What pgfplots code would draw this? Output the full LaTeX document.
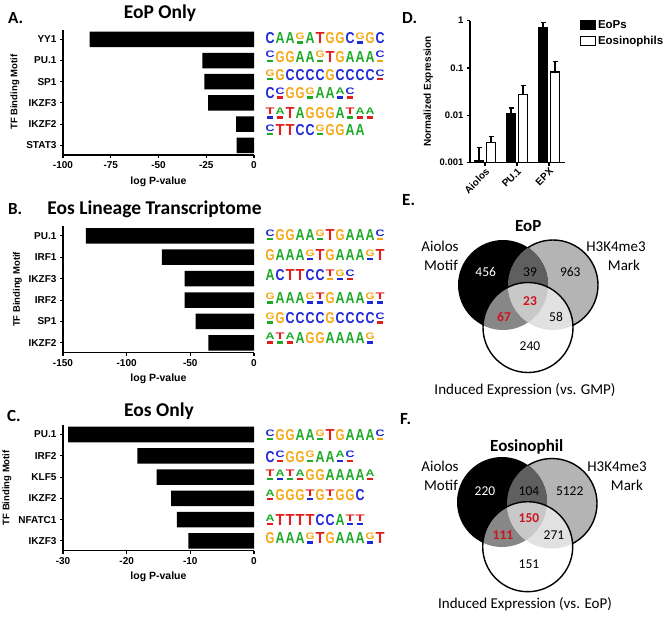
\documentclass[border=0pt]{standalone}
\usepackage{pgfplots}
\pgfplotsset{compat=1.18}
\usepackage{fontspec}
\usepackage{graphicx}
\setmainfont{Liberation Sans}
\newfontfamily\calib{Carlito}
\definecolor{cA}{RGB}{30,170,40}
\definecolor{cC}{RGB}{30,40,215}
\definecolor{cG}{RGB}{245,168,20}
\definecolor{cT}{RGB}{225,30,30}
\definecolor{vred}{RGB}{205,20,30}
\definecolor{vgrey}{RGB}{180,180,180}
\definecolor{vdark}{RGB}{95,95,95}
\definecolor{vmidd}{RGB}{135,135,135}
\definecolor{vlight}{RGB}{225,225,225}
\definecolor{vcent}{RGB}{200,200,200}
\newcommand\cl[1]{\textcolor{c#1}{\bfseries #1}}
\newcommand\Mb[1]{\makebox[10pt]{\resizebox{9pt}{11pt}{\cl{#1}}}}
\newcommand\Ms[2]{\makebox[10pt]{\makebox[0pt]{\raisebox{4.3pt}{\resizebox{9pt}{6.6pt}{\cl{#1}}}}\makebox[0pt]{\textcolor{c#2}{\rule{6.5pt}{2.4pt}}}}}
\newcommand\motAtwo{\Ms CA\Mb G\Mb G\Mb A\Mb A\Ms GA\Mb T\Mb G\Mb A\Mb A\Mb A\Ms CG}
\newcommand\motAthree{\Ms GA\Mb G\Mb C\Mb C\Mb C\Mb C\Mb G\Mb C\Mb C\Mb C\Mb C\Ms CT}
\newcommand\motAfour{\Mb C\Ms CT\Mb G\Mb G\Ms GA\Mb A\Mb A\Ms AC\Ms CT}
\newcommand\motBtwo{\Mb G\Mb A\Mb A\Mb A\Ms GC\Mb T\Mb G\Mb A\Mb A\Mb A\Ms GC\Mb T}
\newcommand\venn[6]{%
 \fill[vgrey] (#3pt,#4pt) circle (45pt);
 \draw[line width=1.4pt] (#3pt,#4pt) circle (45pt);
 \fill[black] (#1pt,#2pt) circle (45pt);
 \begin{scope}\clip (#1pt,#2pt) circle (45pt); \fill[vdark] (#3pt,#4pt) circle (45pt);\end{scope}
 \fill[white] (#5pt,#6pt) circle (45pt);
 \begin{scope}\clip (#5pt,#6pt) circle (45pt);
   \fill[vmidd] (#1pt,#2pt) circle (45pt);
   \fill[vlight] (#3pt,#4pt) circle (45pt);
   \clip (#1pt,#2pt) circle (45pt);
   \fill[vcent] (#3pt,#4pt) circle (45pt);
 \end{scope}
 \draw[line width=1.4pt] (#5pt,#6pt) circle (45pt);}
\pgfplotsset{
 hbar/.style={
  xbar, scale only axis, width=191pt,
  axis x line*=bottom, axis y line*=left,
  axis line style={-, line width=1.3pt},
  major tick style={line width=1.1pt, black},
  tick align=outside, major tick length=3pt,
  ytick={0,...,5}, y dir=reverse,
  ymin=-0.46, ymax=5.46,
  bar width=15.5pt, xmax=0,
  enlarge x limits=false,
  tick label style={font=\bfseries\fontsize{10}{11}\selectfont},
  /pgf/number format/assume math mode=true,
  xlabel={log P-value},
  xlabel style={font=\bfseries\fontsize{10.5}{12}\selectfont, yshift=-1pt},
  ylabel={TF Binding Motif},
  ylabel style={font=\bfseries\fontsize{9.5}{11}\selectfont},
  anchor=south west,
 }
}
\begin{document}
\begin{tikzpicture}
% ---------- Panel A
\begin{axis}[hbar, at={(63pt,-155pt)}, height=125.4pt,
  xmin=-100, xtick={-100,-75,-50,-25,0}, xticklabels={-100,-75,-50,-25,0},
  yticklabels={YY1,PU.1,SP1,IKZF3,IKZF2,STAT3}]
\addplot[fill=black, draw=none] coordinates {(-86,0) (-27,1) (-26,2) (-24,3) (-9.4,4) (-9.1,5)};
\end{axis}
% ---------- Panel B
\begin{axis}[hbar, at={(63pt,-352.7pt)}, height=126.7pt,
  xmin=-150, xtick={-150,-100,-50,0}, xticklabels={-150,-100,-50,0},
  yticklabels={PU.1,IRF1,IKZF3,IRF2,SP1,IKZF2}]
\addplot[fill=black, draw=none] coordinates {(-132,0) (-72.3,1) (-54.4,2) (-54.4,3) (-45.8,4) (-35.9,5)};
\end{axis}
% ---------- Panel C
\begin{axis}[hbar, at={(63pt,-550.7pt)}, height=126pt,
  xmin=-30, xtick={-30,-20,-10,0}, xticklabels={-30,-20,-10,0},
  yticklabels={PU.1,IRF2,KLF5,IKZF2,NFATC1,IKZF3}]
\addplot[fill=black, draw=none] coordinates {(-29.2,0) (-18.3,1) (-15.3,2) (-13,3) (-12.1,4) (-10.3,5)};
\end{axis}
% ---------- Panel D
\begin{axis}[at={(470pt,-162.7pt)}, anchor=south west, scale only axis, width=95pt, height=142pt,
  ymode=log, log origin=infty, ymin=0.001, ymax=1, yminorticks=false,
  ytick={0.001,0.01,0.1,1}, yticklabels={0.001,0.01,0.1,1},
  xmin=-0.47, xmax=2.5, xtick={0,1,2}, xticklabels={Aiolos,PU.1,EPX},
  ybar=3pt, bar width=9pt,
  axis x line*=bottom, axis y line*=left,
  axis line style={-, line width=1.3pt},
  major tick style={line width=1.1pt, black},
  tick align=outside, major tick length=3pt,
  tick label style={font=\bfseries\fontsize{9.5}{10}\selectfont},
  xticklabel style={rotate=45, anchor=north east, inner sep=1pt, font=\bfseries\fontsize{10}{11}\selectfont},
  /pgf/number format/assume math mode=true,
  ylabel={Normalized Expression},
  ylabel style={font=\bfseries\fontsize{10}{11}\selectfont},
  legend style={at={(1.12,1.03)}, anchor=north west, draw=none, fill=none,
    font=\bfseries\fontsize{11.5}{13}\selectfont, row sep=2pt},
  legend cell align=left,
  error bars/error bar style={line width=1.1pt, black},
  error bars/error mark options={rotate=90, mark size=2.5pt, line width=1.1pt, black},
  ]
\addplot[fill=black, draw=black, line width=1pt,
  legend image code/.code={\draw[fill=black,draw=black,line width=1pt] (0pt,-4.5pt) rectangle (15pt,4.5pt);},
  error bars/.cd, y dir=plus, y explicit]
  coordinates {(0,0.00114) +- (0,0.001) (1,0.0111) +- (0,0.0032) (2,0.73) +- (0,0.18)};
\addlegendentry{EoPs}
\addplot[fill=white, draw=black, line width=1.3pt,
  legend image code/.code={\draw[fill=white,draw=black,line width=1.4pt] (0pt,-4.5pt) rectangle (15pt,4.5pt);},
  error bars/.cd, y dir=plus, y explicit]
  coordinates {(0,0.00265) +- (0,0.001) (1,0.0279) +- (0,0.014) (2,0.0826) +- (0,0.054)};
\addlegendentry{Eosinophils}
\end{axis}
% ---------- Titles & letters
\begin{scope}[every node/.style={font=\calib\bfseries\fontsize{17}{19}\selectfont, anchor=base west, inner sep=0}]
\node at (8pt,-24pt) {A.};
\node at (8pt,-215pt) {B.};
\node at (7pt,-421.7pt) {C.};
\node at (402pt,-24pt) {D.};
\node at (402pt,-206pt) {E.};
\node at (400pt,-424pt) {F.};
\end{scope}
\begin{scope}[every node/.style={font=\calib\bfseries\fontsize{19.5}{21}\selectfont, anchor=base, inner sep=0}]
\node at (160pt,-18.3pt) {EoP Only};
\node at (154.5pt,-215pt) {Eos Lineage Transcriptome};
\node at (159pt,-416.7pt) {Eos Only};
\end{scope}
% ---------- Motifs
\begin{scope}[every node/.style={anchor=west, inner sep=0}]
\node at (265pt,-38.3pt) {\Mb C\Mb A\Mb A\Ms GA\Mb A\Mb T\Mb G\Mb G\Mb C\Ms GC\Mb G\Mb C};
\node at (265pt,-56.7pt) {\motAtwo};
\node at (265pt,-75pt) {\motAthree};
\node at (265pt,-93.3pt) {\motAfour};
\node at (265pt,-113.3pt) {\Ms TC\Ms AT\Mb T\Mb A\Mb G\Mb G\Mb G\Mb A\Ms TA\Ms AT\Ms AT};
\node at (265pt,-130pt) {\Ms CA\Mb T\Mb T\Mb C\Mb C\Ms GA\Mb G\Mb G\Mb A\Mb A};
\node at (265pt,-235pt) {\motAtwo};
\node at (265pt,-255pt) {\motBtwo};
\node at (265pt,-275pt) {\Mb A\Mb C\Mb T\Mb T\Mb C\Mb C\Ms TG\Ms GC\Ms CT};
\node at (265pt,-298.3pt) {\Ms GA\Mb A\Mb A\Mb A\Ms GC\Ms TC\Mb G\Mb A\Mb A\Mb A\Ms GC\Ms TC};
\node at (265pt,-318.3pt) {\motAthree};
\node at (265pt,-338.3pt) {\Ms AT\Ms TA\Ms AT\Mb A\Mb G\Mb G\Mb A\Mb A\Mb A\Mb A\Ms GC};
\node at (265pt,-435pt) {\motAtwo};
\node at (265pt,-456.7pt) {\motAfour};
\node at (265pt,-475pt) {\Ms TA\Ms AC\Ms TA\Ms AT\Mb G\Mb G\Mb A\Mb A\Mb A\Mb A\Ms AT};
\node at (265pt,-495pt) {\Ms AT\Mb G\Mb G\Mb G\Ms TC\Mb G\Ms TG\Mb G\Mb G\Mb C};
\node at (265pt,-520pt) {\Ms AT\Mb T\Mb T\Mb T\Mb T\Mb C\Mb C\Mb A\Ms TC\Ms TC};
\node at (265pt,-538.3pt) {\motBtwo};
\end{scope}
% ---------- Venn E and F
\venn{503}{-285}{553}{-285}{528}{-327.5}
\venn{502}{-502}{552}{-503.5}{527.7}{-546.7}
\begin{scope}[every node/.style={font=\calib\fontsize{13.5}{15}\selectfont, anchor=base, inner sep=0}]
\node[text=white] at (485.7pt,-276.5pt) {456};
\node at (530pt,-276.5pt) {39};
\node at (570.3pt,-276.5pt) {963};
\node[text=vred, font=\calib\bfseries\fontsize{13.5}{15}\selectfont] at (530pt,-305.5pt) {23};
\node[text=vred, font=\calib\bfseries\fontsize{13.5}{15}\selectfont] at (504pt,-321.5pt) {67};
\node at (556pt,-321.5pt) {58};
\node at (530pt,-350.8pt) {240};
\node[text=white] at (485pt,-495.8pt) {220};
\node at (529pt,-495.8pt) {104};
\node at (569.7pt,-495.8pt) {5122};
\node[text=vred, font=\calib\bfseries\fontsize{13.5}{15}\selectfont] at (529pt,-522.8pt) {150};
\node[text=vred, font=\calib\bfseries\fontsize{13.5}{15}\selectfont] at (503pt,-539.8pt) {111};
\node at (554pt,-539.8pt) {271};
\node at (529pt,-568.8pt) {151};
\end{scope}
\begin{scope}[every node/.style={font=\calib\fontsize{15}{17}\selectfont, anchor=base, inner sep=0}]
\node[font=\calib\bfseries\fontsize{17}{19}\selectfont] at (528.3pt,-231.7pt) {EoP};
\node at (440pt,-252pt) {Aiolos};
\node at (441pt,-270.5pt) {Motif};
\node at (616pt,-252pt) {H3K4me3};
\node at (624pt,-270.5pt) {Mark};
\node at (525pt,-394.5pt) {Induced Expression (vs. GMP)};
\node[font=\calib\bfseries\fontsize{17}{19}\selectfont] at (526.7pt,-451.7pt) {Eosinophil};
\node at (440pt,-471.7pt) {Aiolos};
\node at (441pt,-490.5pt) {Motif};
\node at (617pt,-471.7pt) {H3K4me3};
\node at (627pt,-490.5pt) {Mark};
\node at (525pt,-608.3pt) {Induced Expression (vs. EoP)};
\end{scope}
\pgfresetboundingbox
\path[use as bounding box] (0pt,0pt) rectangle (671pt,-617pt);
\end{tikzpicture}
\end{document}
